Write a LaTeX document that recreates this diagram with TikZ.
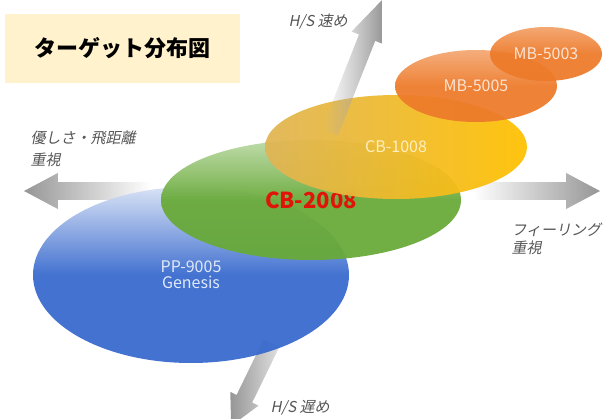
\documentclass[tikz,border=0pt]{standalone}
\usepackage{fontspec}
\setmainfont{Noto Sans CJK JP}
\newfontfamily\slantjp[FakeSlant=0.2]{Noto Sans CJK JP}
\usetikzlibrary{shapes.geometric,shapes.arrows,fadings}
\definecolor{titlebg}{HTML}{FFF2CC}
\definecolor{ppblue}{RGB}{55,105,205}
\definecolor{cbgreen}{RGB}{104,170,56}
\definecolor{cbyellow}{RGB}{255,192,0}
\definecolor{cbgold}{RGB}{218,168,55}
\definecolor{mborange}{RGB}{237,122,42}
\definecolor{axisgray}{RGB}{150,150,150}
\definecolor{notegray}{RGB}{85,85,85}
\definecolor{cbred}{RGB}{225,20,10}
% grey at both heads, white where the zones sit
\pgfdeclarehorizontalshading{axisfade}{100bp}{color(0bp)=(axisgray); color(25bp)=(axisgray); color(36bp)=(white); color(64bp)=(white); color(75bp)=(axisgray); color(100bp)=(axisgray)}

\begin{document}
\begin{tikzpicture}[x=1pt,y=-1pt,
  zone/.style={ellipse, inner sep=0pt, fill opacity=0.94, text opacity=1, align=center, font=\fontsize{16}{16}\selectfont},
  note/.style={text=notegray, align=left, anchor=west, font=\slantjp\fontsize{15}{20}\selectfont},
  axisarrow/.style={inner sep=8.5pt, outer sep=0pt}
]
\useasboundingbox (0,0) rectangle (610,419);

% axes behind the zones
\draw (312,191) node(feel) [axisarrow, double arrow, minimum height=576, minimum width=36, double arrow head extend=9, double arrow tip angle=56, shading=axisfade] {};
\draw (255,377) node(slow) [axisarrow, single arrow, rotate=244, minimum height=92, minimum width=31, single arrow head extend=7, single arrow tip angle=55, left color=axisgray, right color=axisgray!30] {};

% zones
\draw (191,275) node(pp) [zone, minimum width=316, minimum height=176, top color=ppblue!20!white, bottom color=ppblue, middle color=ppblue, text=white!85!ppblue] {PP-9005\\Genesis};
\draw (311,200) node(cbtwo) [zone, minimum width=300, minimum height=120, top color=cbgreen!45!white, bottom color=cbgreen, middle color=cbgreen, text=cbred, font=\bfseries\fontsize{22}{22}\selectfont] {CB-2008};
\draw (396,147) node(cbone) [zone, minimum width=262, minimum height=104, left color=cbgold!85!white, right color=cbyellow, text=white!75!cbyellow] {CB-1008};
\draw (476,86) node(mbfive) [zone, minimum width=162, minimum height=72, top color=mborange!65!white, bottom color=mborange, middle color=mborange, text=white!80!mborange] {MB-5005};
\draw (546,54) node(mbthree) [zone, minimum width=112, minimum height=54, top color=mborange!70!white, bottom color=mborange, middle color=mborange, text=white!80!mborange] {MB-5003};

% fast axis over the yellow zone
\draw (352,76) node(fast) [axisarrow, single arrow, rotate=68.5, minimum height=142, minimum width=33, single arrow head extend=8, single arrow tip angle=45, left color=axisgray!70, right color=axisgray, path fading=west] {};

% notes
\draw (285,22) node(fastnote) [note] {H/S 速め};
\draw (267,408) node(slownote) [note] {H/S 遅め};
\draw (27,149) node(leftnote) [note, font=\slantjp\fontsize{15}{22}\selectfont] {優しさ・飛距離\\重視};
\draw (508,239) node(rightnote) [note, font=\slantjp\fontsize{15}{18}\selectfont] {フィーリング\\重視};

% title
\draw (122.5,48.5) node(title) [fill=titlebg, minimum width=235, minimum height=69, font=\bfseries\fontsize{22}{22}\selectfont] {ターゲット分布図};
\end{tikzpicture}
\end{document}
